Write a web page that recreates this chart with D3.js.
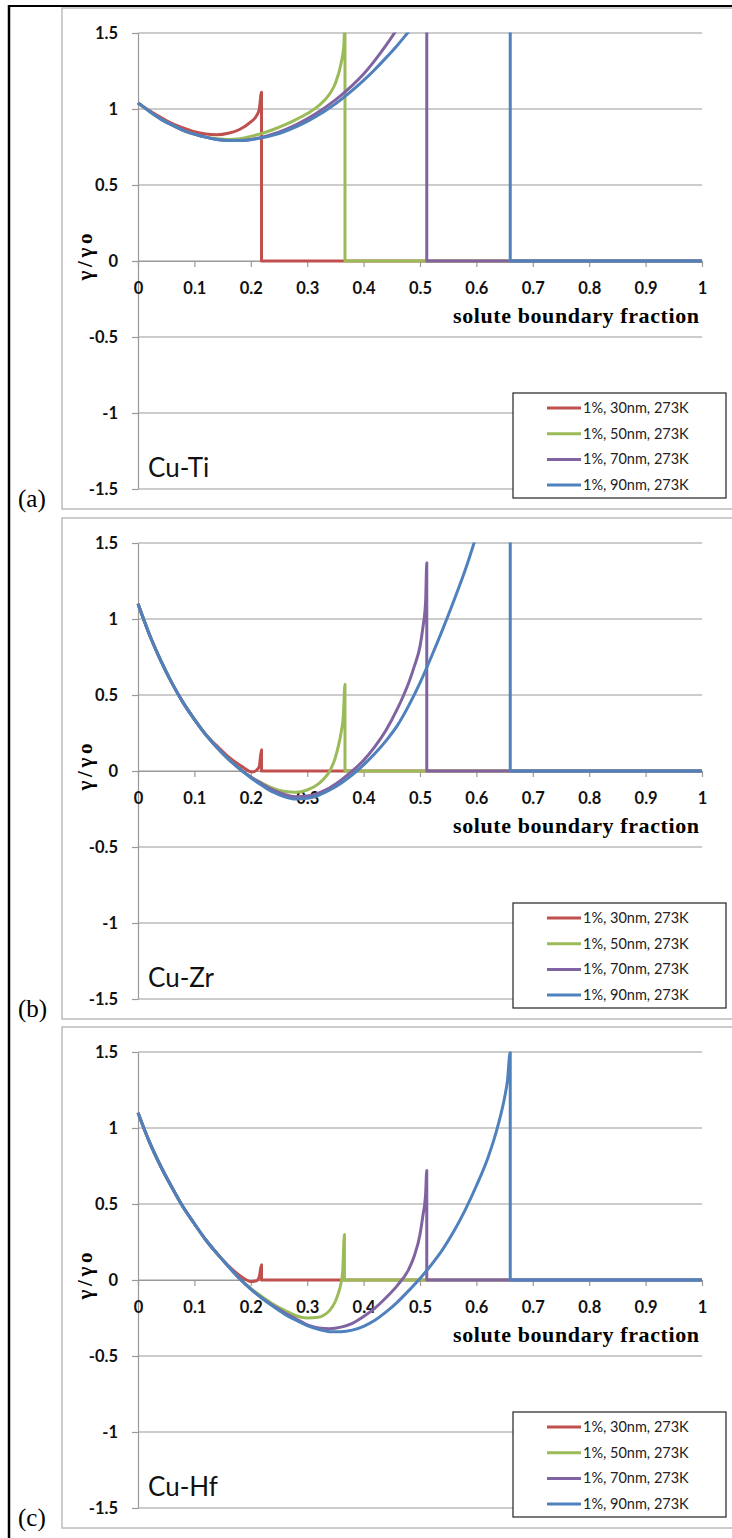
<!DOCTYPE html>
<html>
<head>
<meta charset="utf-8">
<script src="https://cdn.jsdelivr.net/npm/d3@7"></script>
<style>
body { margin: 0; background: #fff; }
svg { display: block; }
</style>
</head>
<body>
<svg id="fig" width="732" height="1538"></svg>
<script>
// axis ticks and labels
var xTicks = [0, 0.1, 0.2, 0.3, 0.4, 0.5, 0.6, 0.7, 0.8, 0.9, 1];
var yTicks = [-1.5, -1, -0.5, 0, 0.5, 1, 1.5];
var seriesNames = ["1%, 30nm, 273K", "1%, 50nm, 273K", "1%, 70nm, 273K", "1%, 90nm, 273K"];
var alloys = ["Cu-Ti", "Cu-Zr", "Cu-Hf"];
var panelTags = ["(a)", "(b)", "(c)"];

// Cu-Ti  [solute boundary fraction, gamma/gamma0]
var tiStart = [[0, 1.04], [0.02, 0.985], [0.04, 0.935], [0.06, 0.895], [0.08, 0.86], [0.10, 0.835], [0.12, 0.815]];
var tiRed = [[0, 1.04], [0.02, 0.99], [0.04, 0.945], [0.06, 0.905], [0.08, 0.875], [0.10, 0.85], [0.12, 0.835],
    [0.14, 0.83], [0.16, 0.84], [0.18, 0.865], [0.20, 0.915], [0.21, 0.955], [0.215, 1.0], [0.219, 1.11], [0.219, 0], [1, 0]];
var tiGreen = tiStart.concat([[0.14, 0.805], [0.16, 0.80], [0.18, 0.805], [0.20, 0.82], [0.22, 0.84], [0.24, 0.865],
    [0.26, 0.895], [0.28, 0.93], [0.30, 0.97], [0.32, 1.02], [0.34, 1.10], [0.35, 1.17], [0.36, 1.30], [0.365, 1.42],
    [0.367, 1.6], [0.367, 0], [1, 0]]);
var tiPurple = tiStart.concat([[0.14, 0.80], [0.16, 0.793], [0.18, 0.793], [0.20, 0.80], [0.22, 0.815], [0.24, 0.836],
    [0.26, 0.863], [0.28, 0.896], [0.30, 0.935], [0.32, 0.98], [0.34, 1.032], [0.36, 1.09], [0.38, 1.155], [0.40, 1.23],
    [0.42, 1.32], [0.44, 1.42], [0.46, 1.53], [0.48, 1.65], [0.50, 1.78], [0.512, 1.87], [0.512, 0], [1, 0]]);
var tiBlue = tiStart.concat([[0.14, 0.80], [0.16, 0.793], [0.18, 0.792], [0.20, 0.798], [0.22, 0.81], [0.24, 0.828],
    [0.26, 0.852], [0.28, 0.882], [0.30, 0.918], [0.32, 0.96], [0.34, 1.008], [0.36, 1.062], [0.38, 1.122], [0.40, 1.188],
    [0.42, 1.26], [0.44, 1.338], [0.46, 1.42], [0.48, 1.51], [0.50, 1.6], [0.55, 1.85], [0.60, 2.12], [0.66, 2.45],
    [0.66, 0], [1, 0]]);

// Cu-Zr
var zrStart = [[0, 1.10], [0.02, 0.90], [0.04, 0.73], [0.06, 0.58], [0.08, 0.45], [0.10, 0.34], [0.12, 0.24]];
var zrRed = zrStart.concat([[0.14, 0.165], [0.16, 0.095], [0.18, 0.04], [0.19, 0.015], [0.20, -0.005], [0.205, -0.005],
    [0.21, 0.005], [0.215, 0.03], [0.219, 0.14], [0.219, 0], [1, 0]]);
var zrGreen = zrStart.concat([[0.14, 0.155], [0.16, 0.08], [0.18, 0.015], [0.20, -0.04], [0.22, -0.08], [0.24, -0.115],
    [0.26, -0.135], [0.28, -0.14], [0.30, -0.125], [0.32, -0.085], [0.33, -0.05], [0.34, 0.0], [0.35, 0.09],
    [0.355, 0.16], [0.36, 0.25], [0.364, 0.36], [0.367, 0.57], [0.367, 0], [1, 0]]);
var zrPurple = zrStart.concat([[0.14, 0.155], [0.16, 0.08], [0.18, 0.015], [0.20, -0.04], [0.22, -0.085], [0.24, -0.125],
    [0.26, -0.155], [0.28, -0.17], [0.30, -0.165], [0.32, -0.145], [0.34, -0.11], [0.36, -0.06], [0.38, 0.0],
    [0.40, 0.07], [0.42, 0.16], [0.44, 0.27], [0.46, 0.41], [0.47, 0.49], [0.48, 0.58], [0.49, 0.69], [0.50, 0.82],
    [0.505, 0.94], [0.51, 1.12], [0.512, 1.37], [0.512, 0], [1, 0]]);
var zrBlue = zrStart.concat([[0.14, 0.155], [0.16, 0.08], [0.18, 0.015], [0.20, -0.045], [0.22, -0.095], [0.24, -0.14],
    [0.26, -0.17], [0.28, -0.185], [0.30, -0.18], [0.32, -0.16], [0.34, -0.125], [0.36, -0.08], [0.38, -0.025],
    [0.40, 0.04], [0.42, 0.115], [0.44, 0.2], [0.46, 0.30], [0.48, 0.43], [0.50, 0.58], [0.52, 0.75], [0.54, 0.93],
    [0.56, 1.12], [0.58, 1.32], [0.60, 1.55], [0.62, 1.8], [0.66, 2.35], [0.66, 0], [1, 0]]);

// Cu-Hf
var hfStart = [[0, 1.10], [0.02, 0.91], [0.04, 0.75], [0.06, 0.61], [0.08, 0.48], [0.10, 0.37], [0.12, 0.265], [0.14, 0.175]];
var hfRed = hfStart.concat([[0.16, 0.095], [0.18, 0.03], [0.19, 0.005], [0.20, -0.01], [0.21, -0.005], [0.215, 0.02],
    [0.219, 0.10], [0.219, 0], [1, 0]]);
var hfGreen = hfStart.concat([[0.16, 0.09], [0.18, 0.01], [0.20, -0.055], [0.22, -0.11], [0.24, -0.16], [0.26, -0.2],
    [0.28, -0.235], [0.30, -0.25], [0.32, -0.245], [0.33, -0.23], [0.34, -0.2], [0.35, -0.14], [0.355, -0.09],
    [0.36, -0.02], [0.363, 0.06], [0.366, 0.30], [0.366, 0], [1, 0]]);
var hfPurple = hfStart.concat([[0.16, 0.09], [0.18, 0.01], [0.20, -0.06], [0.22, -0.12], [0.24, -0.17], [0.26, -0.215],
    [0.28, -0.255], [0.30, -0.295], [0.32, -0.315], [0.34, -0.32], [0.36, -0.31], [0.38, -0.285], [0.40, -0.24],
    [0.42, -0.185], [0.44, -0.115], [0.46, -0.035], [0.48, 0.07], [0.49, 0.16], [0.50, 0.30], [0.505, 0.42],
    [0.51, 0.57], [0.512, 0.72], [0.512, 0], [1, 0]]);
var hfBlue = hfStart.concat([[0.16, 0.09], [0.18, 0.01], [0.20, -0.06], [0.22, -0.12], [0.24, -0.175], [0.26, -0.225],
    [0.28, -0.265], [0.30, -0.3], [0.32, -0.325], [0.34, -0.34], [0.36, -0.34], [0.38, -0.33], [0.40, -0.305],
    [0.42, -0.265], [0.44, -0.21], [0.46, -0.145], [0.48, -0.07], [0.50, 0.01], [0.52, 0.10], [0.54, 0.2],
    [0.56, 0.32], [0.58, 0.46], [0.60, 0.62], [0.62, 0.80], [0.63, 0.91], [0.64, 1.04], [0.65, 1.2], [0.655, 1.31],
    [0.66, 1.5], [0.66, 0], [1, 0]]);

var panels = [
    [tiRed, tiGreen, tiPurple, tiBlue],
    [zrRed, zrGreen, zrPurple, zrBlue],
    [hfRed, hfGreen, hfPurple, hfBlue]
];

var colors = ["#c0504d", "#9bbb59", "#8064a2", "#4f81bd"];
var panelTop = [0, 510, 1019];

var svg = d3.select("#fig");

var x = d3.scaleLinear().domain([0, 1]).range([138, 702]);
var y = d3.scaleLinear().domain([-1.5, 1.5]).range([489, 33]);

var line = d3.line()
    .x(function (d) { return x(d[0]); })
    .y(function (d) { return y(d[1]); })
    .curve(d3.curveMonotoneX);

panels.forEach(function (series, p) {
    var g = svg.append("g").attr("transform", "translate(0," + panelTop[p] + ")");

    // chart frame
    g.append("rect")
        .attr("x", 62).attr("y", 8)
        .attr("width", 700).attr("height", 501)
        .attr("fill", "none")
        .attr("stroke", "#bcbcbc")
        .attr("stroke-width", 1.5);

    // gridlines
    g.append("g").selectAll("line")
        .data(yTicks)
        .enter().append("line")
        .attr("x1", x(0)).attr("x2", x(1))
        .attr("y1", function (d) { return y(d); })
        .attr("y2", function (d) { return y(d); })
        .attr("stroke", "#999")
        .attr("stroke-width", 1.2);

    var yAxis = g.append("g")
        .attr("transform", "translate(" + x(0) + ",0)")
        .call(d3.axisLeft(y).tickValues(yTicks).tickSize(6).tickSizeOuter(0).tickPadding(14)
            .tickFormat(function (d) { return d; }));

    var xAxis = g.append("g")
        .attr("transform", "translate(0," + y(0) + ")")
        .call(d3.axisBottom(x).tickValues(xTicks).tickSize(6).tickSizeOuter(0).tickPadding(15)
            .tickFormat(function (d) { return d; }));

    [xAxis, yAxis].forEach(function (a) {
        a.selectAll("path, line").attr("stroke", "#999").attr("stroke-width", 1.2);
        a.selectAll("text")
            .attr("fill", "#111")
            .style("font-family", "Lato, 'Open Sans', sans-serif")
            .style("font-weight", "bold")
            .style("font-size", "16.5px");
    });

    // clip lines to plot area
    var clipId = "clip" + p;
    g.append("clipPath").attr("id", clipId)
        .append("rect")
        .attr("x", x(0) - 4).attr("y", y(1.5) - 0.5)
        .attr("width", x(1) - x(0) + 8).attr("height", y(-1.5) - y(1.5) + 1);

    g.append("g").attr("clip-path", "url(#" + clipId + ")")
        .selectAll("path")
        .data(series)
        .enter().append("path")
        .attr("d", line)
        .attr("fill", "none")
        .attr("stroke", function (d, i) { return colors[i]; })
        .attr("stroke-width", 3)
        .attr("stroke-linejoin", "round");

    // axis titles
    g.append("text")
        .attr("x", 699).attr("y", 323)
        .attr("text-anchor", "end")
        .attr("textLength", 246)
        .style("font-family", "'Liberation Serif', 'Times New Roman', serif")
        .style("font-weight", "bold")
        .style("font-size", "22px")
        .text("solute boundary fraction");

    g.append("text")
        .attr("transform", "translate(92,257) rotate(-90)")
        .attr("text-anchor", "middle")
        .attr("textLength", 47)
        .style("font-family", "'Liberation Serif', 'Times New Roman', serif")
        .style("font-weight", "bold")
        .style("font-size", "21px")
        .text("γ/γo");

    // legend
    var leg = g.append("g");
    leg.append("rect")
        .attr("x", 513).attr("y", 393)
        .attr("width", 213).attr("height", 105)
        .attr("fill", "#fff")
        .attr("stroke", "#222")
        .attr("stroke-width", 1.2);

    var row = leg.selectAll(".row")
        .data(seriesNames)
        .enter().append("g")
        .attr("class", "row")
        .attr("transform", function (d, i) { return "translate(0," + (408 + i * 25.7) + ")"; });

    row.append("line")
        .attr("x1", 547).attr("x2", 581)
        .attr("stroke", function (d, i) { return colors[i]; })
        .attr("stroke-width", 3);

    row.append("text")
        .attr("x", 583).attr("dy", "0.35em")
        .attr("fill", "#222")
        .style("font-family", "Lato, 'Open Sans', sans-serif")
        .style("font-size", "14.5px")
        .text(function (d) { return d; });

    // alloy name and panel tag
    g.append("text")
        .attr("x", 148).attr("y", 477)
        .attr("fill", "#111")
        .style("font-family", "Lato, 'Open Sans', sans-serif")
        .style("font-size", "26px")
        .text(alloys[p]);

    g.append("text")
        .attr("x", 18).attr("y", 507)
        .style("font-family", "'Liberation Serif', 'Times New Roman', serif")
        .style("font-size", "25px")
        .text(panelTags[p]);
});

// outer black border
svg.append("line")
    .attr("x1", 9).attr("x2", 9).attr("y1", 5).attr("y2", 1538)
    .attr("stroke", "#000").attr("stroke-width", 2.5);
svg.append("line")
    .attr("x1", 8).attr("x2", 732).attr("y1", 6).attr("y2", 6)
    .attr("stroke", "#000").attr("stroke-width", 2);
</script>
</body>
</html>
